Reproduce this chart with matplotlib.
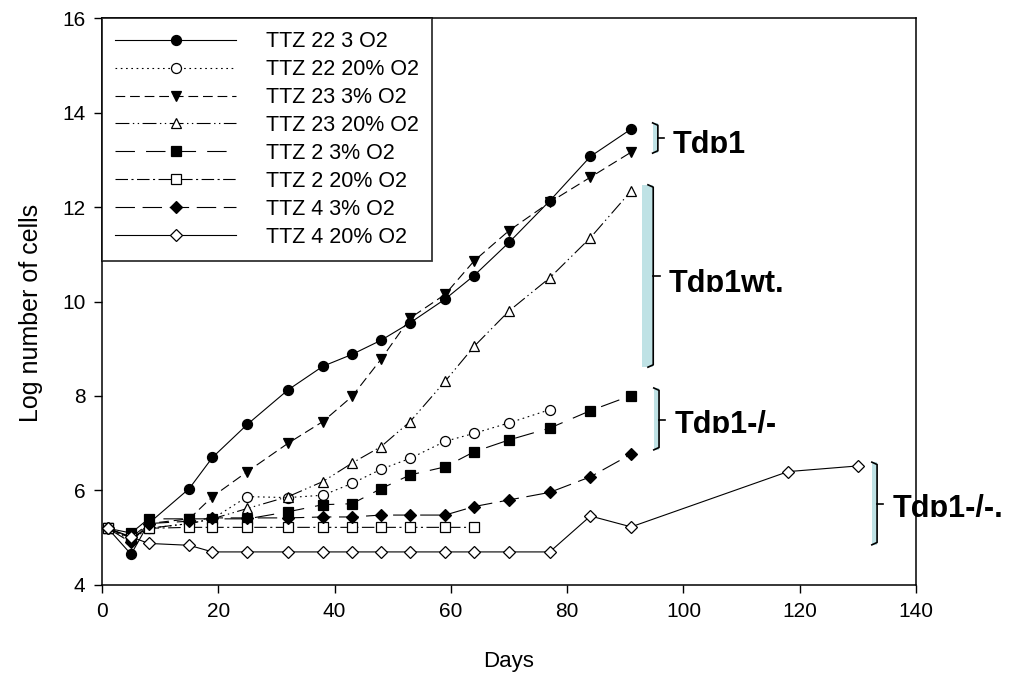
import matplotlib
matplotlib.use("Agg")
import matplotlib.pyplot as plt
from matplotlib.patches import Rectangle

plt.rcParams['font.family'] = ['Liberation Sans', 'DejaVu Sans']
plt.rcParams['lines.scale_dashes'] = False

# ---------------- data ----------------
days_std = [1, 5, 8, 15, 19, 25, 32, 38, 43, 48, 53, 59, 64, 70, 77, 84, 91]
days_s2 = [1, 5, 8, 15, 19, 25, 32, 38, 43, 48, 53, 59, 64, 70, 77]
days_s6 = [1, 5, 8, 15, 19, 25, 32, 38, 43, 48, 53, 59, 64]
days_s8 = [1, 5, 8, 15, 19, 25, 32, 38, 43, 48, 53, 59, 64, 70, 77, 84, 91, 118, 130]

ttz22_3 = [5.2, 4.65, 5.3, 6.04, 6.7, 7.4, 8.13, 8.63, 8.88, 9.18, 9.55, 10.05, 10.55, 11.25, 12.13, 13.07, 13.65]
ttz22_20 = [5.2, 4.95, 5.2, 5.3, 5.4, 5.87, 5.85, 5.9, 6.15, 6.45, 6.68, 7.04, 7.21, 7.43, 7.71]
ttz23_3 = [5.2, 5.0, 5.3, 5.4, 5.87, 6.4, 7.0, 7.46, 7.99, 8.78, 9.65, 10.15, 10.86, 11.5, 12.1, 12.63, 13.16]
ttz23_20 = [5.2, 5.0, 5.2, 5.3, 5.4, 5.62, 5.87, 6.19, 6.58, 6.93, 7.46, 8.31, 9.05, 9.8, 10.5, 11.35, 12.34]
ttz2_3 = [5.2, 5.1, 5.4, 5.4, 5.4, 5.4, 5.55, 5.7, 5.72, 6.04, 6.33, 6.5, 6.82, 7.07, 7.32, 7.69, 8.01]
ttz2_20 = [5.2, 5.0, 5.2, 5.22, 5.22, 5.22, 5.22, 5.22, 5.22, 5.22, 5.22, 5.22, 5.22]
ttz4_3 = [5.2, 4.9, 5.3, 5.35, 5.42, 5.42, 5.42, 5.44, 5.44, 5.48, 5.48, 5.48, 5.66, 5.8, 5.96, 6.29, 6.77]
ttz4_20 = [5.2, 5.02, 4.88, 4.84, 4.7, 4.7, 4.7, 4.7, 4.7, 4.7, 4.7, 4.7, 4.7, 4.7, 4.7, 5.46, 5.23, 6.4, 6.52]

labels = ["TTZ 22 3 O2", "TTZ 22 20% O2", "TTZ 23 3% O2", "TTZ 23 20% O2",
          "TTZ 2 3% O2", "TTZ 2 20% O2", "TTZ 4 3% O2", "TTZ 4 20% O2"]

x_ticks = [0, 20, 40, 60, 80, 100, 120, 140]
y_ticks = [4, 6, 8, 10, 12, 14, 16]

# bracket annotations: (x, y_bottom, y_top, y_mid, text_baseline, label, fill width)
brackets = [
    (95.6, 13.14, 13.78, 13.46, 13.14, "Tdp1", 0.9),
    (94.8, 8.61, 12.47, 10.55, 10.2, "Tdp1wt.", 1.9),
    (95.8, 6.86, 8.17, 7.5, 7.22, "Tdp1-/-", 0.9),
    (133.3, 4.85, 6.6, 5.72, 5.44, "Tdp1-/-.", 0.9),
]

# ---------------- figure ----------------
fig = plt.figure(figsize=(10.15, 6.77), dpi=100)
ax = fig.add_axes([0.1005, 0.1359, 0.802, 0.8375])

series = [
    (days_std, ttz22_3, dict(marker='o', mfc='black', ls='-')),
    (days_s2, ttz22_20, dict(marker='o', mfc='white', ls=(0, (1.2, 2.6)))),
    (days_std, ttz23_3, dict(marker='v', mfc='black', ls=(0, (7, 3.5)))),
    (days_std, ttz23_20, dict(marker='^', mfc='white', ls=(0, (10, 2.5, 1, 2.5, 1, 2.5)))),
    (days_std, ttz2_3, dict(marker='s', mfc='black', ls=(0, (14, 8)))),
    (days_s6, ttz2_20, dict(marker='s', mfc='white', ls=(0, (9, 2.5, 1.5, 2.5)))),
    (days_std, ttz4_3, dict(marker='D', mfc='black', ls=(0, (14, 5.5)))),
    (days_s8, ttz4_20, dict(marker='D', mfc='white', ls='-')),
]
msizes = {'o': 7.2, 'v': 7.8, '^': 7.8, 's': 7.0, 'D': 6.3}

handles = []
for (xd, yd, st), lab in zip(series, labels):
    ln, = ax.plot(xd, yd, color='black', lw=0.8, linestyle=st['ls'],
                  marker=st['marker'], markersize=msizes[st['marker']],
                  markerfacecolor=st['mfc'], markeredgecolor='black',
                  markeredgewidth=0.9, label=lab)
    handles.append(ln)

ax.set_xlim(0, 140)
ax.set_ylim(4, 16)
ax.set_xticks(x_ticks)
ax.set_yticks(y_ticks)
ax.tick_params(direction='out', length=6, width=1.0, labelsize=15,
               colors='black', top=False, right=False, pad=6)
for sp in ax.spines.values():
    sp.set_linewidth(1.1)
ax.set_xlabel("Days", fontsize=16, labelpad=22)
ax.set_ylabel("Log number of cells", fontsize=18)
ax.yaxis.set_label_coords(-0.073, 0.48)

leg = ax.legend(handles=handles, loc='upper left', bbox_to_anchor=(0, 1),
                borderaxespad=0, frameon=True, fancybox=False,
                edgecolor='black', fontsize=15.5, handlelength=5.6,
                handletextpad=1.4, labelspacing=0.32, borderpad=0.62,
                numpoints=1)
leg.get_frame().set_linewidth(1.3)

# brackets with light blue fill and labels
fill_col = '#bfe2e5'
for (bx, yb, yt, ym, tb, lab, w) in brackets:
    ax.add_patch(Rectangle((bx - w, yb), w, yt - yb, facecolor=fill_col,
                           edgecolor='none', clip_on=False, zorder=3))
    ax.plot([bx - 0.9, bx, bx, bx - 0.9], [yt, yt - 0.05, yb + 0.05, yb],
            color='black', lw=1.2, clip_on=False, zorder=4)
    ax.plot([bx, bx + 1.1], [ym, ym], color='black', lw=1.2,
            clip_on=False, zorder=4)
    t = ax.text(bx + 2.6, tb, lab, fontsize=22, fontweight='bold',
                ha='left', va='baseline', clip_on=True, zorder=5)
    # the reference cuts the descenders at the baseline
    yfig = fig.transFigure.inverted().transform(ax.transData.transform((0, tb)))[1]
    clip = Rectangle((0, yfig), 1, 1 - yfig, transform=fig.transFigure)
    t.set_clip_path(clip)

fig.savefig("out.png", dpi=100)
